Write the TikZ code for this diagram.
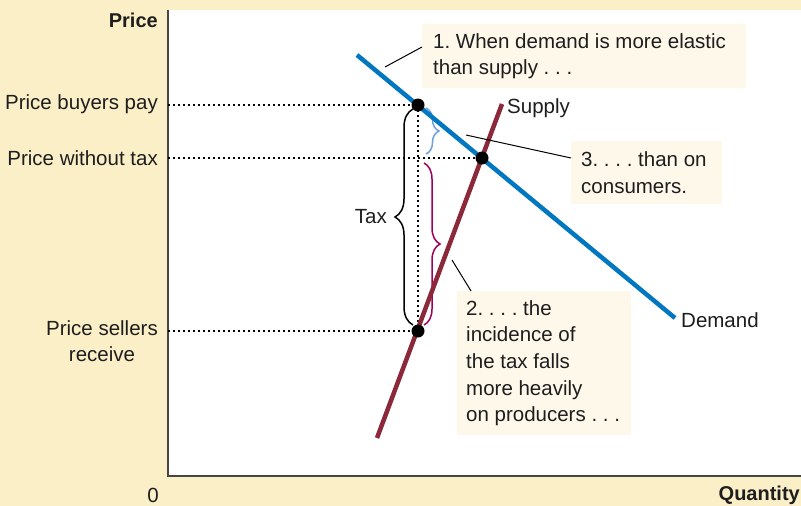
\documentclass[tikz,border=0pt]{standalone}
\usepackage{fontspec}
\setmainfont{Liberation Sans}
\usetikzlibrary{decorations.pathreplacing}
\definecolor{bg}{RGB}{251,239,200}
\definecolor{cream}{RGB}{253,248,234}
\definecolor{demandblue}{RGB}{0,119,192}
\definecolor{supplyred}{RGB}{139,40,58}
\definecolor{bracemag}{RGB}{160,0,90}
\definecolor{braceblue}{RGB}{110,160,220}
\definecolor{ink}{RGB}{30,30,30}
\definecolor{axisgray}{RGB}{70,70,70}
\tikzset{
  txt/.style={font=\fontsize{20.5}{26.7}\selectfont\frenchspacing, text=ink, inner sep=0pt},
  boldtxt/.style={txt, font=\fontsize{20}{26.7}\selectfont\bfseries},
  axisline/.style={draw=axisgray, line width=2pt},
  dotline/.style={draw=black, line width=2pt, dash pattern=on 2pt off 3pt},
  demandline/.style={draw=demandblue, line width=4.5pt},
  supplyline/.style={draw=supplyred, line width=4.5pt},
  dot/.style={circle, fill=black, minimum size=13pt, inner sep=0pt},
  calloutbox/.style={fill=cream, anchor=north west, inner sep=0pt},
  callouttext/.style={txt, align=left, anchor=west},
  leader/.style={draw=black, line width=1pt},
  bracestyle/.style={decorate, line width=1.5pt},
}
\begin{document}
\begin{tikzpicture}[x=1pt,y=-1pt]
\fill[bg] (0,0) rectangle (801,506);
\fill[white] (168,10) rectangle (801,476);
\useasboundingbox (0,0) rectangle (801,506);

% coordinates
\coordinate (top) at (168,10);
\coordinate (orig) at (168,476);
\coordinate (right) at (801,476);
\coordinate (D1) at (357,55);
\coordinate (D2) at (675,318);
\coordinate (S1) at (377,438);
\coordinate (S2) at (502,104);
\coordinate (B) at (418,105);
\coordinate (E) at (482,158);
\coordinate (SR) at (418,331);
\coordinate (yB) at (168,105);
\coordinate (yE) at (168,158);
\coordinate (yS) at (168,331);

% axes
\draw[axisline] (top) -- (orig) -- (right);

% dotted guides
\draw[dotline] (yB) -- (B);
\draw[dotline] (yE) -- (E);
\draw[dotline] (yS) -- (SR);
\draw[dotline] (B) -- (SR);

% braces
\draw[bracestyle, draw=black, decoration={brace, amplitude=18pt}] (413,325) -- (413,109);
\draw[bracestyle, draw=braceblue, decoration={brace, amplitude=13pt}] (426,108) -- (426,154);
\draw[bracestyle, draw=bracemag, decoration={brace, amplitude=16pt}] (424,163) -- (424,325);

% curves
\draw[demandline] (D1) -- (D2);
\draw[supplyline] (S1) -- (S2);

% points
\node[dot] (pB) at (B) {};
\node[dot] (pE) at (E) {};
\node[dot] (pS) at (SR) {};

% axis labels
\node[boldtxt, anchor=east] (lprice) at (158,20) {Price};
\node[txt, anchor=east] (lbuy) at (158,104) {Price buyers pay};
\node[txt, anchor=east] (lwithout) at (158,158) {Price without tax};
\node[txt, anchor=north east, align=center] (lsell) at (158,320) {Price sellers\\receive};
\node[txt] (lzero) at (153,495) {0};
\node[boldtxt, anchor=east] (lqty) at (800,495) {Quantity};

\node[txt, anchor=east] (ltax) at (387,217) {Tax};
\node[txt, anchor=west] (lsupply) at (507,108) {Supply};
\node[txt, anchor=west] (ldemand) at (681,320) {Demand};

% callouts
\node[calloutbox, minimum width=324pt, minimum height=64pt] (c1) at (422,24) {};
\node[callouttext] (t1) at ([xshift=11pt]c1.west)
  {1. When demand is more elastic\\than supply . . .};
\node[calloutbox, minimum width=174pt, minimum height=144pt] (c2) at (457,291) {};
\node[callouttext] (t2) at ([xshift=9pt]c2.west)
  {2. . . . the\\incidence of\\the tax falls\\more heavily\\on producers . . .};
\node[calloutbox, minimum width=151pt, minimum height=63pt] (c3) at (571,141) {};
\node[callouttext] (t3) at ([xshift=10pt]c3.west)
  {3. . . . than on\\consumers.};

% leaders
\coordinate (L1a) at (385,67);
\coordinate (L1b) at (422,47);
\coordinate (L2a) at (452,260);
\coordinate (L2b) at (471,291);
\coordinate (L3a) at (466,135);
\coordinate (L3b) at (571,158);
\draw[leader] (L1a) -- (L1b);
\draw[leader] (L2a) -- (L2b);
\draw[leader] (L3a) -- (L3b);
\end{tikzpicture}
\end{document}
